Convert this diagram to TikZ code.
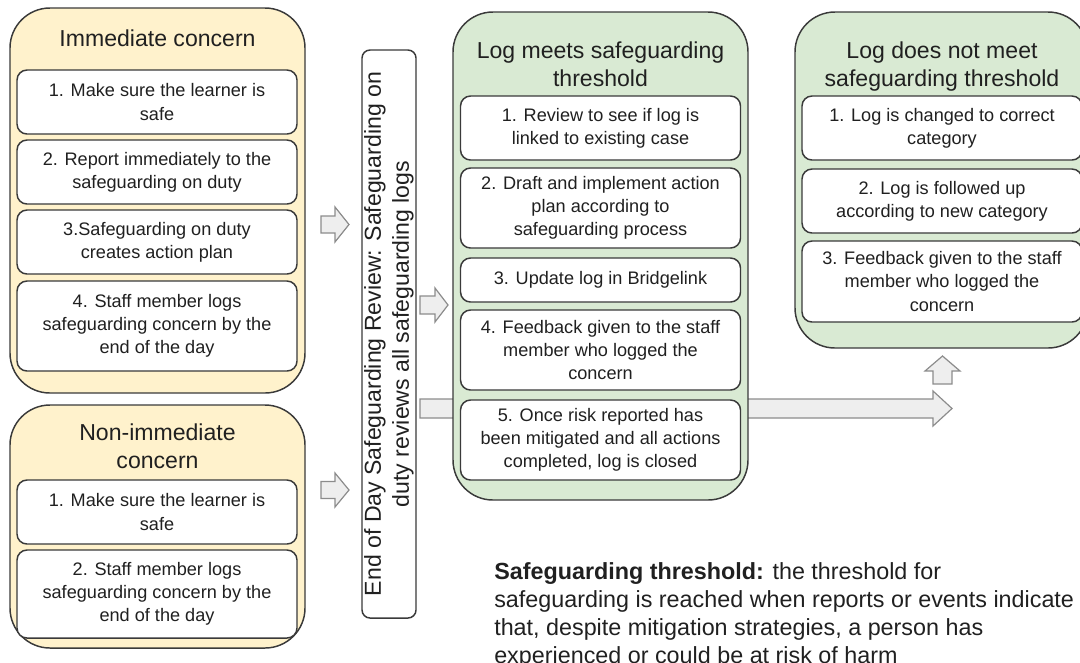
\documentclass[tikz,border=0pt]{standalone}
\usepackage{fontspec}
\setmainfont{Liberation Sans}
\definecolor{yel}{HTML}{FFF2CC}
\definecolor{grn}{HTML}{D9EAD3}
\definecolor{edge}{HTML}{3A3A3A}
\definecolor{txt}{HTML}{202020}
\definecolor{arrfill}{HTML}{EEEEEE}
\definecolor{arredge}{HTML}{8C8C8C}
\begin{document}
\begin{tikzpicture}[x=0.75pt,y=-0.75pt,
  outer/.style={draw=edge,line width=1.1pt,rounded corners=30pt,inner sep=0pt},
  stepbox/.style={draw=edge,fill=white,line width=1.1pt,rounded corners=7.5pt,minimum width=210pt,align=center,inner sep=0pt,font=\fontsize{13.6}{17.3}\selectfont,text=txt},
  title/.style={align=center,font=\fontsize{17.3}{21}\selectfont,text=txt,inner sep=0pt},
  blockarrow/.style={draw=arredge,fill=arrfill,line width=0.9pt,line join=miter}]
\useasboundingbox (0,0) rectangle (1080,662);

% long arrow (behind the green box)
\draw[blockarrow] (420,399) -- (933,399) -- (933,391) -- (952,408.5) -- (933,426) -- (933,418) -- (420,418) -- cycle;

% Immediate concern
\node[outer,fill=yel,minimum width=221.25pt,minimum height=288.75pt] (imm) at (157.5,200.5) {};
\node[title] (immt) at (157.5,38) {Immediate concern};
\node[stepbox,minimum height=48pt] (i1) at (157,102) {1. Make sure the learner is\\safe};
\node[stepbox,minimum height=48pt] (i2) at (157,172) {2. Report immediately to the\\safeguarding on duty};
\node[stepbox,minimum height=48pt] (i3) at (157,242) {3.Safeguarding on duty\\creates action plan};
\node[stepbox,minimum height=67.5pt] (i4) at (157,326) {4. Staff member logs\\safeguarding concern by the\\end of the day};

% Non-immediate concern
\node[outer,fill=yel,minimum width=221.25pt,minimum height=182.25pt] (non) at (157.5,526.5) {};
\node[title] (nont) at (157.5,446) {Non-immediate\\concern};
\node[stepbox,minimum height=48pt] (n1) at (157,512) {1. Make sure the learner is\\safe};
\node[stepbox,minimum height=66pt] (n2) at (157,594) {2. Staff member logs\\safeguarding concern by the\\end of the day};

% arrows to review
\draw[blockarrow] (321,216) -- (335,216) -- (335,207) -- (349,224.5) -- (335,242) -- (335,233) -- (321,233) -- cycle;
\draw[blockarrow] (321,481.5) -- (335,481.5) -- (335,473) -- (349,490) -- (335,507) -- (335,498.5) -- (321,498.5) -- cycle;

% review box
\node[draw=edge,fill=white,line width=1.1pt,rounded corners=6pt,rotate=90,minimum width=426pt,minimum height=40.5pt,title] (rev) at (389,334) {End of Day Safeguarding Review: Safeguarding on\\duty reviews all safeguarding logs};

\draw[blockarrow] (420,296) -- (435,296) -- (435,288) -- (448,305) -- (435,322) -- (435,314) -- (420,314) -- cycle;

% Log meets
\node[outer,fill=grn,minimum width=221.25pt,minimum height=366pt] (meet) at (600.5,256) {};
\node[title] (meett) at (600.5,64) {Log meets safeguarding\\threshold};
\node[stepbox,minimum height=48pt] (m1) at (600.5,128) {1. Review to see if log is\\linked to existing case};
\node[stepbox,minimum height=60pt] (m2) at (600.5,208) {2. Draft and implement action\\plan according to\\safeguarding process};
\node[stepbox,minimum height=33pt] (m3) at (600.5,280) {3. Update log in Bridgelink};
\node[stepbox,minimum height=60pt] (m4) at (600.5,350) {4. Feedback given to the staff\\member who logged the\\concern};
\node[stepbox,minimum height=60pt] (m5) at (600.5,440) {5. Once risk reported has\\been mitigated and all actions\\completed, log is closed};

% Log does not meet
\node[outer,fill=grn,minimum width=219.75pt,minimum height=252pt] (not) at (941.5,180) {};
\node[title] (nott) at (942,67) {Log does not meet\\safeguarding threshold};
\node[stepbox,minimum height=48pt] (d1) at (942,128) {1. Log is changed to correct\\category};
\node[stepbox,minimum height=48pt] (d2) at (942,201) {2. Log is followed up\\according to new category};
\node[stepbox,minimum height=60.75pt] (d3) at (942,281.5) {3. Feedback given to the staff\\member who logged the\\concern};

\draw[blockarrow] (933,384) -- (933,371) -- (925,371) -- (942.5,356) -- (960,371) -- (952,371) -- (952,384) -- cycle;

% definition
\node[anchor=north west,inner sep=0pt,align=left,font=\fontsize{17.5}{21}\selectfont,text=txt] (def) at (494,562) {\textbf{Safeguarding threshold:} the threshold for\\safeguarding is reached when reports or events indicate\\that, despite mitigation strategies, a person has\\experienced or could be at risk of harm};
\end{tikzpicture}
\end{document}
